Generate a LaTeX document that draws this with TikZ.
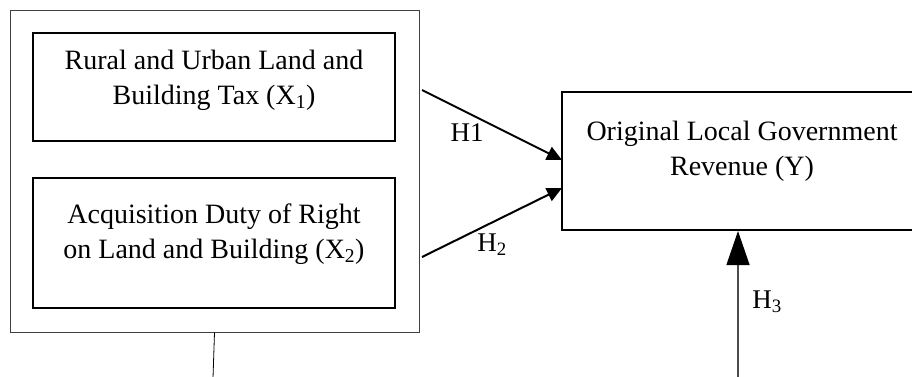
\documentclass[tikz,border=0pt]{standalone}
\usepackage{fontspec}
\setmainfont{Liberation Serif}
\usetikzlibrary{arrows.meta}
\begin{document}
\begin{tikzpicture}[x=1pt,y=-1pt,
  outerbox/.style={draw=black!75,line width=1pt,rectangle,inner sep=0pt},
  innerbox/.style={draw=black,line width=2pt,rectangle,inner sep=0pt},
  lbl/.style={font=\fontsize{28}{35}\selectfont,align=center,inner sep=0pt},
  hlbl/.style={font=\fontsize{27}{30}\selectfont,inner sep=0pt},
  arr/.style={line width=2pt,-{Triangle[length=15pt,width=14pt]}},
  bigarr/.style={draw=black!70,line width=1.3pt,-{Triangle[length=34pt,width=23pt,color=black]}}
]
\useasboundingbox (0,0) rectangle (912,376);
% outer box
\node[outerbox,minimum width=409pt,minimum height=322pt] (outer) at (214.5,171) {};
% inner boxes
\node[innerbox,minimum width=362pt,minimum height=108pt] (x1) at (214,87) {};
\node[innerbox,minimum width=362pt,minimum height=130pt] (x2) at (214,243) {};
\node[lbl] (x1t) at (214,80) {Rural and Urban Land and\\Building Tax (X\textsubscript{1})};
\node[lbl] (x2t) at (214,234) {Acquisition Duty of Right\\on Land and Building (X\textsubscript{2})};
% Y box
\node[innerbox,line width=1.8pt,minimum width=360pt,minimum height=138pt] (y) at (742,161) {};
\node[lbl] (yt) at (742,151) {Original Local Government\\Revenue (Y)};
% arrows
\coordinate (s1) at (422,90);
\coordinate (s2) at (422,257);
\coordinate (e1) at (562,160);
\coordinate (e2) at (562,188);
\draw[arr] (s1) -- (e1);
\draw[arr] (s2) -- (e2);
\node[hlbl] (h1) at (467,133) {H1};
\node[hlbl] (h2) at (492,245) {H\textsubscript{2}};
% H3
\coordinate (b3) at (738,378);
\coordinate (e3) at (738,231);
\draw[bigarr] (b3) -- (e3);
\node[hlbl] (h3) at (767,302) {H\textsubscript{3}};
% bottom line
\coordinate (b0) at (213,378);
\draw[line width=0.8pt] (outer.south) -- (b0);
\end{tikzpicture}
\end{document}
